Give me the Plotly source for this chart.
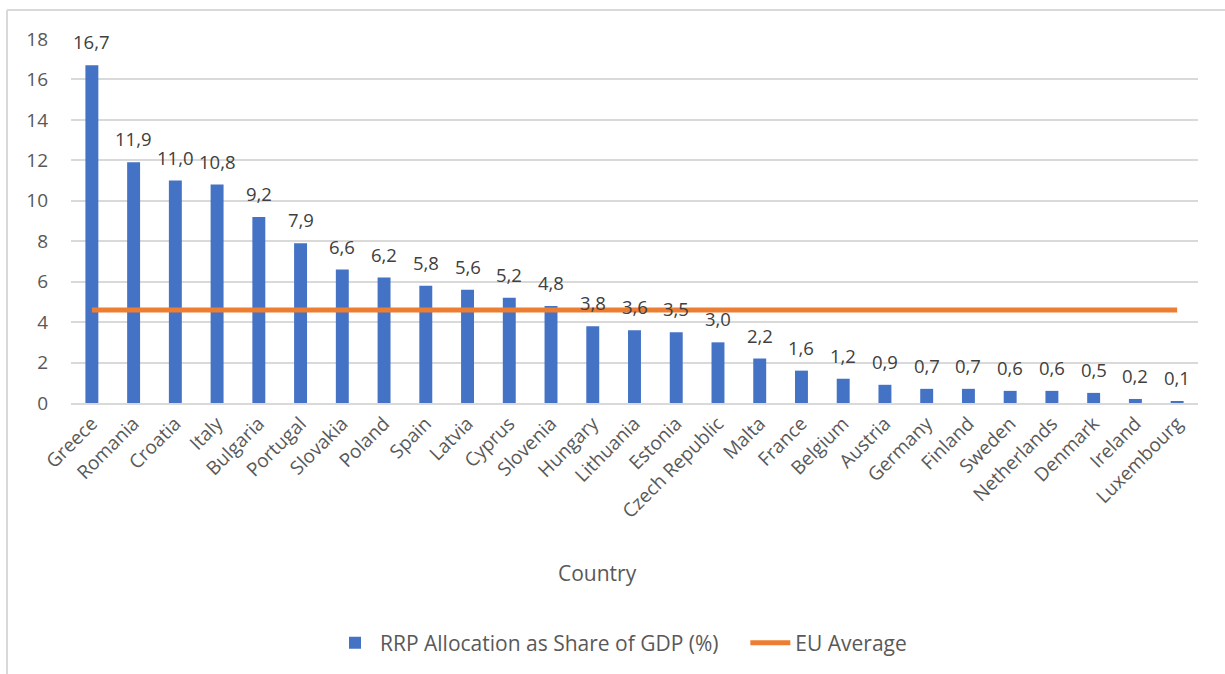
import plotly.graph_objects as go

countries = ["Greece", "Romania", "Croatia", "Italy", "Bulgaria", "Portugal", "Slovakia",
             "Poland", "Spain", "Latvia", "Cyprus", "Slovenia", "Hungary", "Lithuania",
             "Estonia", "Czech Republic", "Malta", "France", "Belgium", "Austria",
             "Germany", "Finland", "Sweden", "Netherlands", "Denmark", "Ireland", "Luxembourg"]
rrp_share = [16.7, 11.9, 11.0, 10.8, 9.2, 7.9, 6.6, 6.2, 5.8, 5.6, 5.2, 4.8, 3.8, 3.6,
             3.5, 3.0, 2.2, 1.6, 1.2, 0.9, 0.7, 0.7, 0.6, 0.6, 0.5, 0.2, 0.1]
eu_average = [4.6] * len(countries)
y_ticks = [0, 2, 4, 6, 8, 10, 12, 14, 16, 18]

W, H = 1225, 674
ML, MR, MT, MB = 71, 27, 39, 270
PW, PH = W - ML - MR, H - MT - MB

def px_x(x):
    return (x - ML) / PW

def px_y(y):
    return (H - MB - y) / PH

TXT = "#595959"
FONT = "Open Sans, Segoe UI, sans-serif"
GAP = "\u00a0" * 4

fig = go.Figure()
fig.add_trace(go.Bar(
    x=countries, y=rrp_share, name="RRP Allocation as Share of GDP (%)" + GAP,
    marker=dict(color="#4472c4", line=dict(width=0)),
))
fig.add_trace(go.Scatter(
    x=countries, y=eu_average, name="EU Average", mode="lines",
    line=dict(color="#ed7d31", width=5),
))

# value labels above each bar
for c, v in zip(countries, rrp_share):
    fig.add_annotation(
        x=c, y=v, text=f"{v:.1f}".replace(".", ","), showarrow=False,
        yanchor="bottom", yshift=9, font=dict(size=18.5, color="#404040", family=FONT),
    )

fig.add_annotation(
    x=px_x(597), y=px_y(574), xref="paper", yref="paper", text="Country",
    showarrow=False, xanchor="center", yanchor="middle",
    font=dict(size=21, color=TXT, family=FONT),
)

# chart frame (top and left edges)
fig.add_shape(type="line", xref="paper", yref="paper",
              x0=px_x(7), x1=px_x(W + 5), y0=px_y(10), y1=px_y(10),
              line=dict(color="#d9d9d9", width=2))
fig.add_shape(type="line", xref="paper", yref="paper",
              x0=px_x(7), x1=px_x(7), y0=px_y(10), y1=px_y(H + 5),
              line=dict(color="#d9d9d9", width=2))

fig.update_layout(
    width=W, height=H,
    margin=dict(l=ML, r=MR, t=MT, b=MB),
    paper_bgcolor="white", plot_bgcolor="white",
    font=dict(family=FONT, color=TXT),
    bargap=0.69,
    separators=",.",
    showlegend=True,
    legend=dict(
        orientation="h", x=px_x(621), xanchor="center", y=px_y(643), yanchor="middle",
        font=dict(size=21, color=TXT, family=FONT), itemwidth=40,
        traceorder="normal",
    ),
    xaxis=dict(
        tickangle=-45, tickfont=dict(size=19, color=TXT, family=FONT),
        showgrid=False, showline=True, linecolor="#d9d9d9", linewidth=2,
        ticks="", range=[-0.5, len(countries) - 0.5],
    ),
    yaxis=dict(
        range=[0, 18], tickvals=y_ticks, tickfont=dict(size=19, color=TXT, family=FONT),
        showgrid=True, gridcolor="#d9d9d9", gridwidth=2, zeroline=False,
        showline=False, ticks="", ticklabelstandoff=22,
    ),
)

fig.write_html("out.html")
